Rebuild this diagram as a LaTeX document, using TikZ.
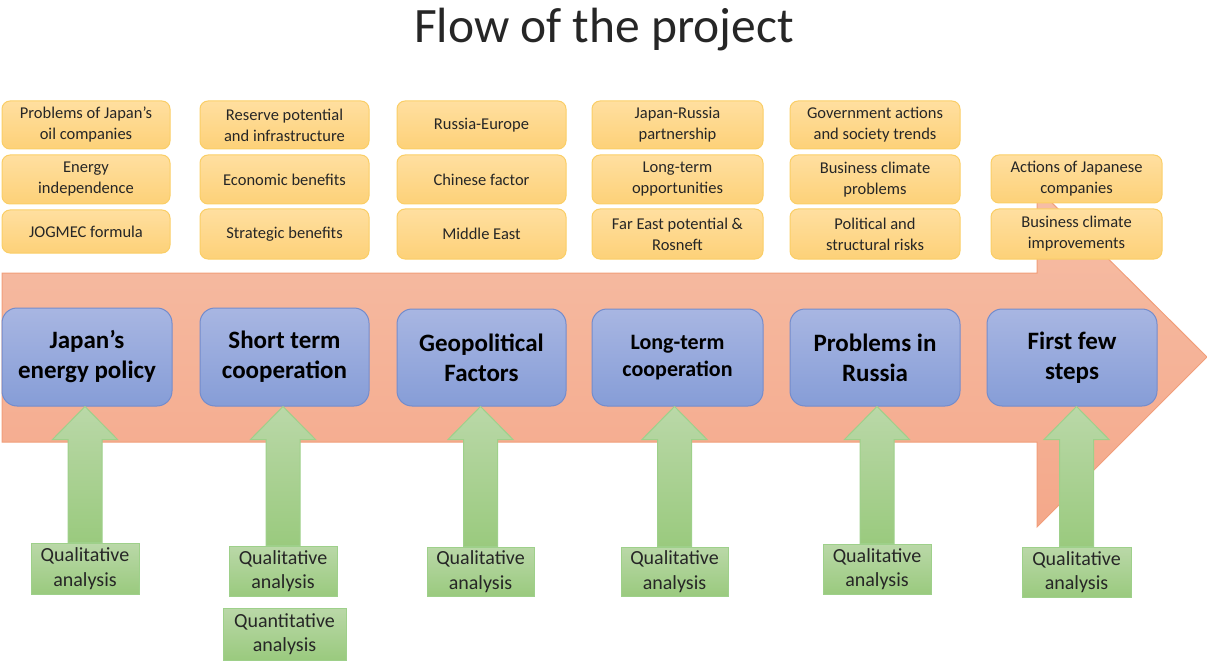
\documentclass[tikz,border=0pt]{standalone}
\usepackage{fontspec}
\setmainfont{Carlito}
\usetikzlibrary{calc}

\definecolor{salmonTop}{RGB}{246,190,166}
\definecolor{salmonBot}{RGB}{244,168,138}
\definecolor{salmonEdge}{RGB}{241,158,122}
\definecolor{blueTop}{RGB}{168,182,226}
\definecolor{blueBot}{RGB}{134,157,215}
\definecolor{blueEdge}{RGB}{116,140,204}
\definecolor{yelTop}{RGB}{255,223,160}
\definecolor{yelBot}{RGB}{253,209,120}
\definecolor{yelEdge}{RGB}{250,206,102}
\definecolor{grnTop}{RGB}{186,216,168}
\definecolor{grnBot}{RGB}{154,202,126}
\definecolor{grnEdge}{RGB}{158,208,138}
\definecolor{txt}{RGB}{38,38,38}

\tikzset{
  flowarrow/.style={draw=salmonEdge, line width=1, top color=salmonTop, bottom color=salmonBot},
  topic/.style={rectangle, rounded corners=8, draw=yelEdge, line width=1,
    top color=yelTop, bottom color=yelBot, align=center, text=txt, inner sep=0,
    font=\fontsize{16.5}{21}\selectfont},
  stage/.style={rectangle, rounded corners=15, draw=blueEdge, line width=1,
    top color=blueTop, bottom color=blueBot, align=center, text=black, inner sep=0,
    font=\bfseries\fontsize{25}{30}\selectfont},
  method/.style={rectangle, draw=grnEdge, line width=1,
    top color=grnTop, bottom color=grnBot, align=center, text=txt, inner sep=0,
    font=\fontsize{20}{24.5}\selectfont},
  liftarrow/.style={draw=grnEdge, line width=1, top color=grnTop, bottom color=grnBot},
}

% box placed by its corners: style, x1, y1, x2, y2, name, text
\newcommand\boxat[7]{%
  \node[#1, minimum width={#4-#2}, minimum height={#5-#3}] (#6)
    at ({(#2+#4)/2},{(#3+#5)/2}) {#7};}

% block arrow rising from a method box to a stage box
\newcommand\drawlift[2]{%
  \path[liftarrow] let \p1=(#1.north), \p2=(#2.south) in
    (\x1-17pt,\y1) -- (\x1-17pt,\y2-33pt) -- (\x1-32.5pt,\y2-33pt) -- (\x1,\y2)
    -- (\x1+32.5pt,\y2-33pt) -- (\x1+17pt,\y2-33pt) -- (\x1+17pt,\y1) -- cycle;}

\begin{document}
\begin{tikzpicture}[x=1pt,y=-1pt]
\useasboundingbox (0,0) rectangle (1207,663);

% title
\node[anchor=base, text=txt, font=\fontsize{49.5}{58}\selectfont] (title) at (604,43) {Flow of the project};

% the large flow arrow behind the stages
\path[flowarrow] (2,273) -- (1037,273) -- (1037,188) -- (1207,357)
  -- (1037,527) -- (1037,442) -- (2,442) -- cycle;

% topics above each stage
\boxat{topic}{2}{101}{170}{149}{t11}{Problems of Japan’s\\oil companies}
\boxat{topic}{2}{155}{170}{204}{t12}{Energy\\independence}
\boxat{topic}{2}{210}{170}{253}{t13}{JOGMEC formula}

\boxat{topic}{200}{101}{369}{149}{t21}{Reserve potential\\and infrastructure}
\boxat{topic}{200}{155}{369}{204}{t22}{Economic benefits}
\boxat{topic}{200}{209}{369}{259}{t23}{Strategic benefits}

\boxat{topic}{397}{101}{566}{149}{t31}{Russia-Europe}
\boxat{topic}{397}{155}{566}{204}{t32}{Chinese factor}
\boxat{topic}{397}{209}{566}{259}{t33}{Middle East}

\boxat{topic}{592}{101}{763}{149}{t41}{Japan-Russia\\partnership}
\boxat{topic}{592}{155}{763}{204}{t42}{Long-term\\opportunities}
\boxat{topic}{592}{209}{763}{259}{t43}{Far East potential \&\\Rosneft}

\boxat{topic}{790}{101}{960}{149}{t51}{Government actions\\and society trends}
\boxat{topic}{790}{155}{960}{204}{t52}{Business climate\\problems}
\boxat{topic}{790}{209}{960}{259}{t53}{Political and\\structural risks}

\boxat{topic}{991}{155}{1162}{203}{t61}{Actions of Japanese\\companies}
\boxat{topic}{991}{209}{1162}{259}{t62}{Business climate\\improvements}

% stages
\boxat{stage}{2}{308}{172}{406}{b1}{Japan’s\\energy policy}
\boxat{stage}{200}{308}{369}{406}{b2}{Short term\\cooperation}
\boxat{stage}{397}{309}{566}{406}{b3}{Geopolitical\\Factors}
\boxat{stage, font=\bfseries\fontsize{22}{27}\selectfont}{592}{309}{763}{406}{b4}{Long-term\\cooperation}
\boxat{stage}{790}{309}{960}{406}{b5}{Problems in\\Russia}
\boxat{stage}{987}{309}{1157}{406}{b6}{First few\\steps}

% methods
\boxat{method}{31}{543}{139}{594}{g1}{Qualitative\\analysis}
\boxat{method}{229}{546}{337}{596}{g2}{Qualitative\\analysis}
\boxat{method}{223}{608}{346}{660}{q2}{Quantitative\\analysis}
\boxat{method}{427}{547}{534}{596}{g3}{Qualitative\\analysis}
\boxat{method}{621}{547}{728}{596}{g4}{Qualitative\\analysis}
\boxat{method}{823}{544}{931}{594}{g5}{Qualitative\\analysis}
\boxat{method}{1022}{547}{1131}{597}{g6}{Qualitative\\analysis}

% arrows from methods to stages
\drawlift{g1}{b1}
\drawlift{g2}{b2}
\drawlift{g3}{b3}
\drawlift{g4}{b4}
\drawlift{g5}{b5}
\drawlift{g6}{b6}
\end{tikzpicture}
\end{document}
